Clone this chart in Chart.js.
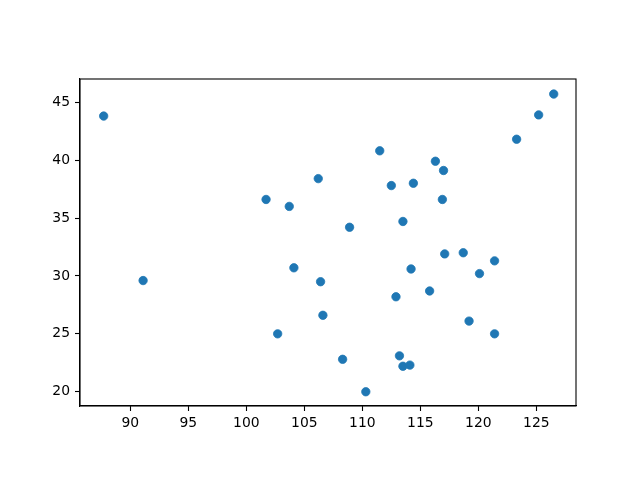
<!DOCTYPE html>
<html>
<head>
  <title>Scatter</title>
  <style>
    body { margin: 0; background: white; }
    #chart { display: block; }
  </style>
</head>
<body>
  <canvas id="chart" width="640" height="480"></canvas>

  <script src="https://cdn.jsdelivr.net/npm/chart.js"></script>
  <script>
    // values
    const xValues = [
      87.7, 101.7, 103.7, 106.2, 111.5, 116.3, 117.0, 112.5, 114.4, 116.9,
      108.9, 113.5, 123.3, 125.2, 126.5, 91.1, 104.1, 102.7, 106.4, 106.6,
      108.3, 110.3, 113.2, 113.5, 114.1, 112.9, 114.2, 115.8, 117.1, 118.7,
      121.4, 120.1, 119.2, 121.4
    ];
    const yValues = [
      43.8, 36.6, 36.0, 38.4, 40.8, 39.9, 39.1, 37.8, 38.0, 36.6,
      34.2, 34.7, 41.8, 43.9, 45.7, 29.6, 30.7, 25.0, 29.5, 26.6,
      22.8, 20.0, 23.1, 22.2, 22.3, 28.2, 30.6, 28.7, 31.9, 32.0,
      31.3, 30.2, 26.1, 25.0
    ];
    const xTicks = [90, 95, 100, 105, 110, 115, 120, 125];
    const yTicks = [20, 25, 30, 35, 40, 45];
    const xRange = [85.66, 128.42];
    const yRange = [18.77, 47.0];

    const points = xValues.map((x, i) => ({ x: x, y: yValues[i] }));

    // draw top and right spines like matplotlib
    const frame = {
      id: 'frame',
      afterDraw(chart) {
        const a = chart.chartArea;
        const c = chart.ctx;
        c.save();
        c.strokeStyle = '#000';
        c.lineWidth = 1.1;
        c.strokeRect(a.left, a.top, a.right - a.left, a.bottom - a.top);
        c.restore();
      }
    };

    const tickFont = { family: 'DejaVu Sans', size: 13.9 };

    new Chart(document.getElementById('chart').getContext('2d'), {
      type: 'scatter',
      data: {
        datasets: [{
          data: points,
          backgroundColor: '#1f77b4',
          borderColor: '#1f77b4',
          pointRadius: 4.2,
          borderWidth: 0.8
        }]
      },
      options: {
        responsive: false,
        animation: false,
        layout: { padding: { left: 0, right: 64, top: 79, bottom: 0 } },
        plugins: { legend: { display: false }, tooltip: { enabled: false } },
        scales: {
          x: {
            type: 'linear',
            min: xRange[0],
            max: xRange[1],
            afterBuildTicks: s => { s.ticks = xTicks.map(v => ({ value: v })); },
            afterFit: s => { s.height = 74; },
            grid: { drawOnChartArea: false, drawTicks: true, tickLength: 5, tickWidth: 1.1, tickColor: '#000' },
            border: { display: true, color: '#000', width: 1.1 },
            ticks: { color: '#000', font: tickFont, padding: 4, maxRotation: 0, autoSkip: false }
          },
          y: {
            type: 'linear',
            min: yRange[0],
            max: yRange[1],
            afterBuildTicks: s => { s.ticks = yTicks.map(v => ({ value: v })); },
            afterFit: s => { s.width = 80; },
            grid: { drawOnChartArea: false, drawTicks: true, tickLength: 5, tickWidth: 1.1, tickColor: '#000' },
            border: { display: true, color: '#000', width: 1.1 },
            ticks: { color: '#000', font: tickFont, padding: 5, autoSkip: false }
          }
        }
      },
      plugins: [frame]
    });
  </script>
</body>
</html>
